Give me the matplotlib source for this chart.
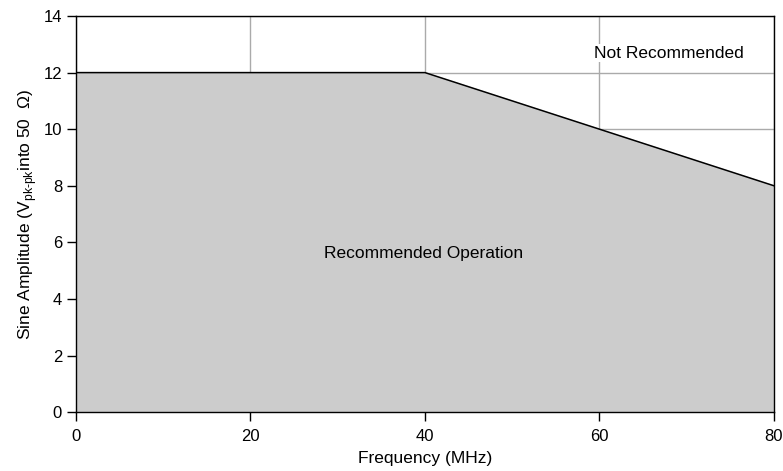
import matplotlib
matplotlib.use('Agg')
import matplotlib.pyplot as plt

plt.rcParams['font.family'] = ['Liberation Sans', 'DejaVu Sans']
plt.rcParams['mathtext.fontset'] = 'custom'
plt.rcParams['mathtext.rm'] = 'Liberation Sans'

# boundary of the recommended operating region
freq = [0, 40, 80]
amplitude = [12, 12, 8]

x_ticks = [0, 20, 40, 60, 80]
y_ticks = [0, 2, 4, 6, 8, 10, 12, 14]

fig = plt.figure(figsize=(7.83, 4.71), dpi=100)
ax = fig.add_axes([0.097, 0.125, 0.8915, 0.841])

ax.fill_between(freq, amplitude, 0, color='#cccccc', zorder=2)
ax.plot(freq, amplitude, color='black', linewidth=1.1, zorder=3)

ax.set_xlim(0, 80)
ax.set_ylim(0, 14)
ax.set_xticks(x_ticks)
ax.set_yticks(y_ticks)
ax.grid(True, color='#aaaaaa', linewidth=1, zorder=1)
ax.set_axisbelow(True)
ax.tick_params(direction='out', length=6.5, width=1, labelsize=12, colors='black')
ax.tick_params(axis='x', pad=6)
for s in ax.spines.values():
    s.set_linewidth(1)
    s.set_zorder(4)

ax.text(39.8, 5.62, 'Recommended Operation', ha='center', va='center', fontsize=12.5, zorder=5)
ax.text(67.9, 12.69, 'Not Recommended', ha='center', va='center', fontsize=12.5, zorder=5,
        bbox=dict(facecolor='white', edgecolor='none', pad=1))

ax.set_xlabel('Frequency (MHz)', fontsize=12.5, labelpad=5)
ax.set_ylabel(r'Sine Amplitude (V$_{\mathregular{pk\text{-}pk}}$into 50  Ω)', fontsize=12.5, labelpad=3)

fig.savefig('out.png', dpi=100)
